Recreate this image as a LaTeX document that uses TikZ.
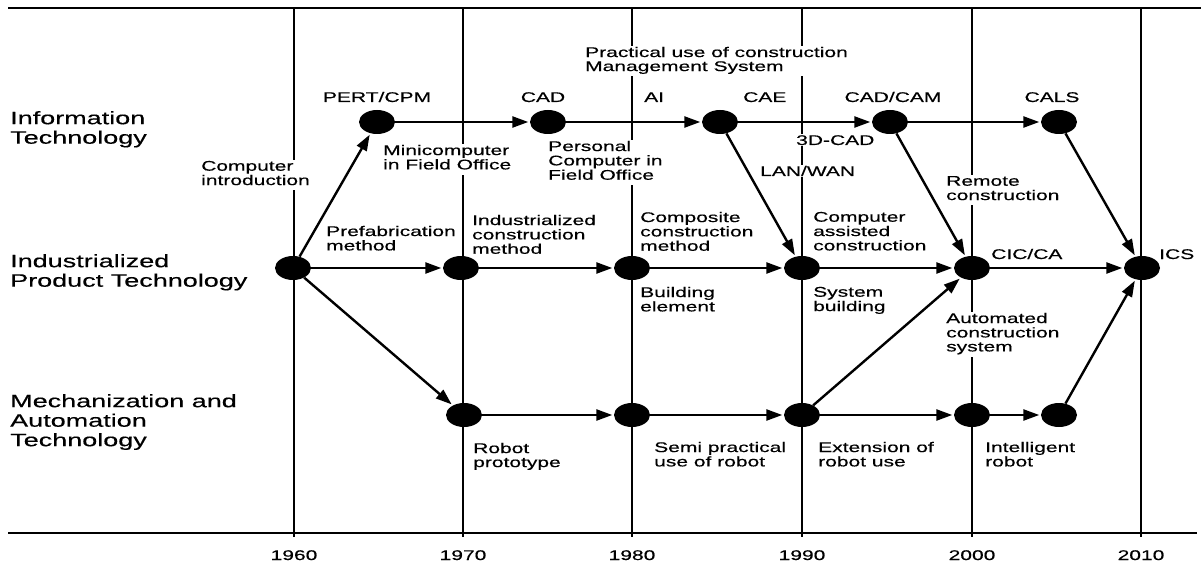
\documentclass[tikz,border=0pt]{standalone}
\usepackage{fontspec}
\setmainfont[FakeStretch=1.5,FakeBold=0.4]{Liberation Sans}
\usetikzlibrary{arrows.meta,shapes.geometric}
\newcommand\smallfnt{\fontsize{14}{14}\selectfont}
\newcommand\largefnt{\fontsize{18}{19.5}\selectfont}
\newcommand\mlines[1]{\begin{tabular}{@{}l@{}}#1\end{tabular}}
\begin{document}
\begin{tikzpicture}[x=1pt,y=-1pt,
 dot/.style={ellipse, fill=black, minimum width=36pt, minimum height=24pt, inner sep=0pt},
 arr/.style={line width=2.4pt, -{Triangle[length=16pt,width=11pt]}, shorten >=1.5pt},
 gridline/.style={line width=1.4pt},
 frameline/.style={line width=2pt},
 lbl/.style={anchor=north west, inner sep=1pt, fill=white, font=\smallfnt},
 caplbl/.style={anchor=base, inner sep=1pt, fill=white, font=\smallfnt},
 capw/.style={anchor=base west, inner sep=1pt, fill=white, font=\smallfnt},
 rowlbl/.style={anchor=north west, inner sep=1pt, font=\largefnt},
 yr/.style={anchor=base, inner sep=1pt, font=\smallfnt}]
\useasboundingbox (0,0) rectangle (1201,564);

% frame lines
\coordinate (tl) at (8,8);
\coordinate (tr) at (1201,8);
\coordinate (bl) at (8,533);
\coordinate (br) at (1197,533);
\draw[frameline] (tl) -- (tr);
\draw[frameline] (bl) -- (br);

% decade grid lines
\foreach \x/\n in {294/60,463/70,632/80,802/90,972/00,1141/10}{
  \coordinate (gt\n) at (\x,8);
  \coordinate (gb\n) at (\x,537);
  \draw[gridline] (gt\n) -- (gb\n);
}
\node[yr] (yr60) at (294,560) {1960};
\node[yr] (yr70) at (463,560) {1970};
\node[yr] (yr80) at (632,560) {1980};
\node[yr] (yr90) at (802,560) {1990};
\node[yr] (yr00) at (972,560) {2000};
\node[yr] (yr10) at (1141,560) {2010};

% row labels
\node[rowlbl] (rowIT) at (9,109.35) {\mlines{Information\\Technology}};
\node[rowlbl] (rowIP) at (9,252.35) {\mlines{Industrialized\\Product Technology}};
\node[rowlbl] (rowMA) at (9,392.35) {\mlines{Mechanization and\\Automation\\Technology}};

% labels
\node[lbl] (lpract) at (584,45.7) {\mlines{Practical use of construction\\Management System}};
\node[lbl] (lmini) at (382,143.7) {\mlines{Minicomputer\\in Field Office}};
\node[lbl] (lpers) at (547,139.7) {\mlines{Personal\\Computer in\\Field Office}};
\node[lbl] (lcomp) at (200,159.7) {\mlines{Computer\\introduction}};
\node[lbl] (lremote) at (945,174.7) {\mlines{Remote\\construction}};
\node[lbl] (lprefab) at (325,224.7) {\mlines{Prefabrication\\method}};
\node[lbl] (lindm) at (471,213.7) {\mlines{Industrialized\\construction\\method}};
\node[lbl] (lcompos) at (639,210.7) {\mlines{Composite\\construction\\method}};
\node[lbl] (lcassist) at (812,210.7) {\mlines{Computer\\assisted\\construction}};
\node[lbl] (lbuild) at (639,285.7) {\mlines{Building\\element}};
\node[lbl] (lsys) at (812,285.7) {\mlines{System\\building}};
\node[lbl] (lauto) at (945,311.7) {\mlines{Automated\\construction\\system}};
\node[lbl] (lrobot) at (472,441.7) {\mlines{Robot\\prototype}};
\node[lbl] (lsemi) at (653,440.7) {\mlines{Semi practical\\use of robot}};
\node[lbl] (lext) at (817,440.7) {\mlines{Extension of\\robot use}};
\node[lbl] (lintel) at (984,440.7) {\mlines{Intelligent\\robot}};

\node[caplbl] (lpert) at (377,102) {PERT/CPM};
\node[caplbl] (lcad) at (543,102) {CAD};
\node[capw] (lai) at (643,102) {AI};
\node[capw] (lcae) at (742,102) {CAE};
\node[caplbl] (lcadcam) at (893,102) {CAD/CAM};
\node[caplbl] (lcals) at (1052,102) {CALS};
\node[capw] (l3d) at (795,145) {3D-CAD};
\node[capw] (llan) at (759,176) {LAN/WAN};
\node[capw] (lcic) at (990,259) {CIC/CA};
\node[capw] (lics) at (1158,259) {ICS};

% nodes
\node[dot] (pert) at (377,122) {};
\node[dot] (cad) at (548,122) {};
\node[dot] (cae) at (720,122) {};
\node[dot] (cadcam) at (890,122) {};
\node[dot] (cals) at (1059,122) {};
\node[dot] (m60) at (293,268) {};
\node[dot] (m70) at (461,268) {};
\node[dot] (m80) at (632,268) {};
\node[dot] (m90) at (802,268) {};
\node[dot] (m00) at (972,268) {};
\node[dot] (m10) at (1142,268) {};
\node[dot] (b70) at (464,415) {};
\node[dot] (b80) at (632,415) {};
\node[dot] (b90) at (802,415) {};
\node[dot] (b00) at (972,415) {};
\node[dot] (b05) at (1059,415) {};

% arrows
\draw[arr] (m60) -- (pert);
\draw[arr] (m60) -- (m70);
\draw[arr] (m60) -- (b70);
\draw[arr] (pert) -- (cad);
\draw[arr] (cad) -- (cae);
\draw[arr] (cae) -- (cadcam);
\draw[arr] (cadcam) -- (cals);
\draw[arr] (cae) -- (m90);
\draw[arr] (cadcam) -- (m00);
\draw[arr] (cals) -- (m10);
\draw[arr] (m70) -- (m80);
\draw[arr] (m80) -- (m90);
\draw[arr] (m90) -- (m00);
\draw[arr] (m00) -- (m10);
\draw[arr] (b70) -- (b80);
\draw[arr] (b80) -- (b90);
\draw[arr] (b90) -- (b00);
\draw[arr] (b00) -- (b05);
\draw[arr] (b90) -- (m00);
\draw[arr] (b05) -- (m10);
\end{tikzpicture}
\end{document}
